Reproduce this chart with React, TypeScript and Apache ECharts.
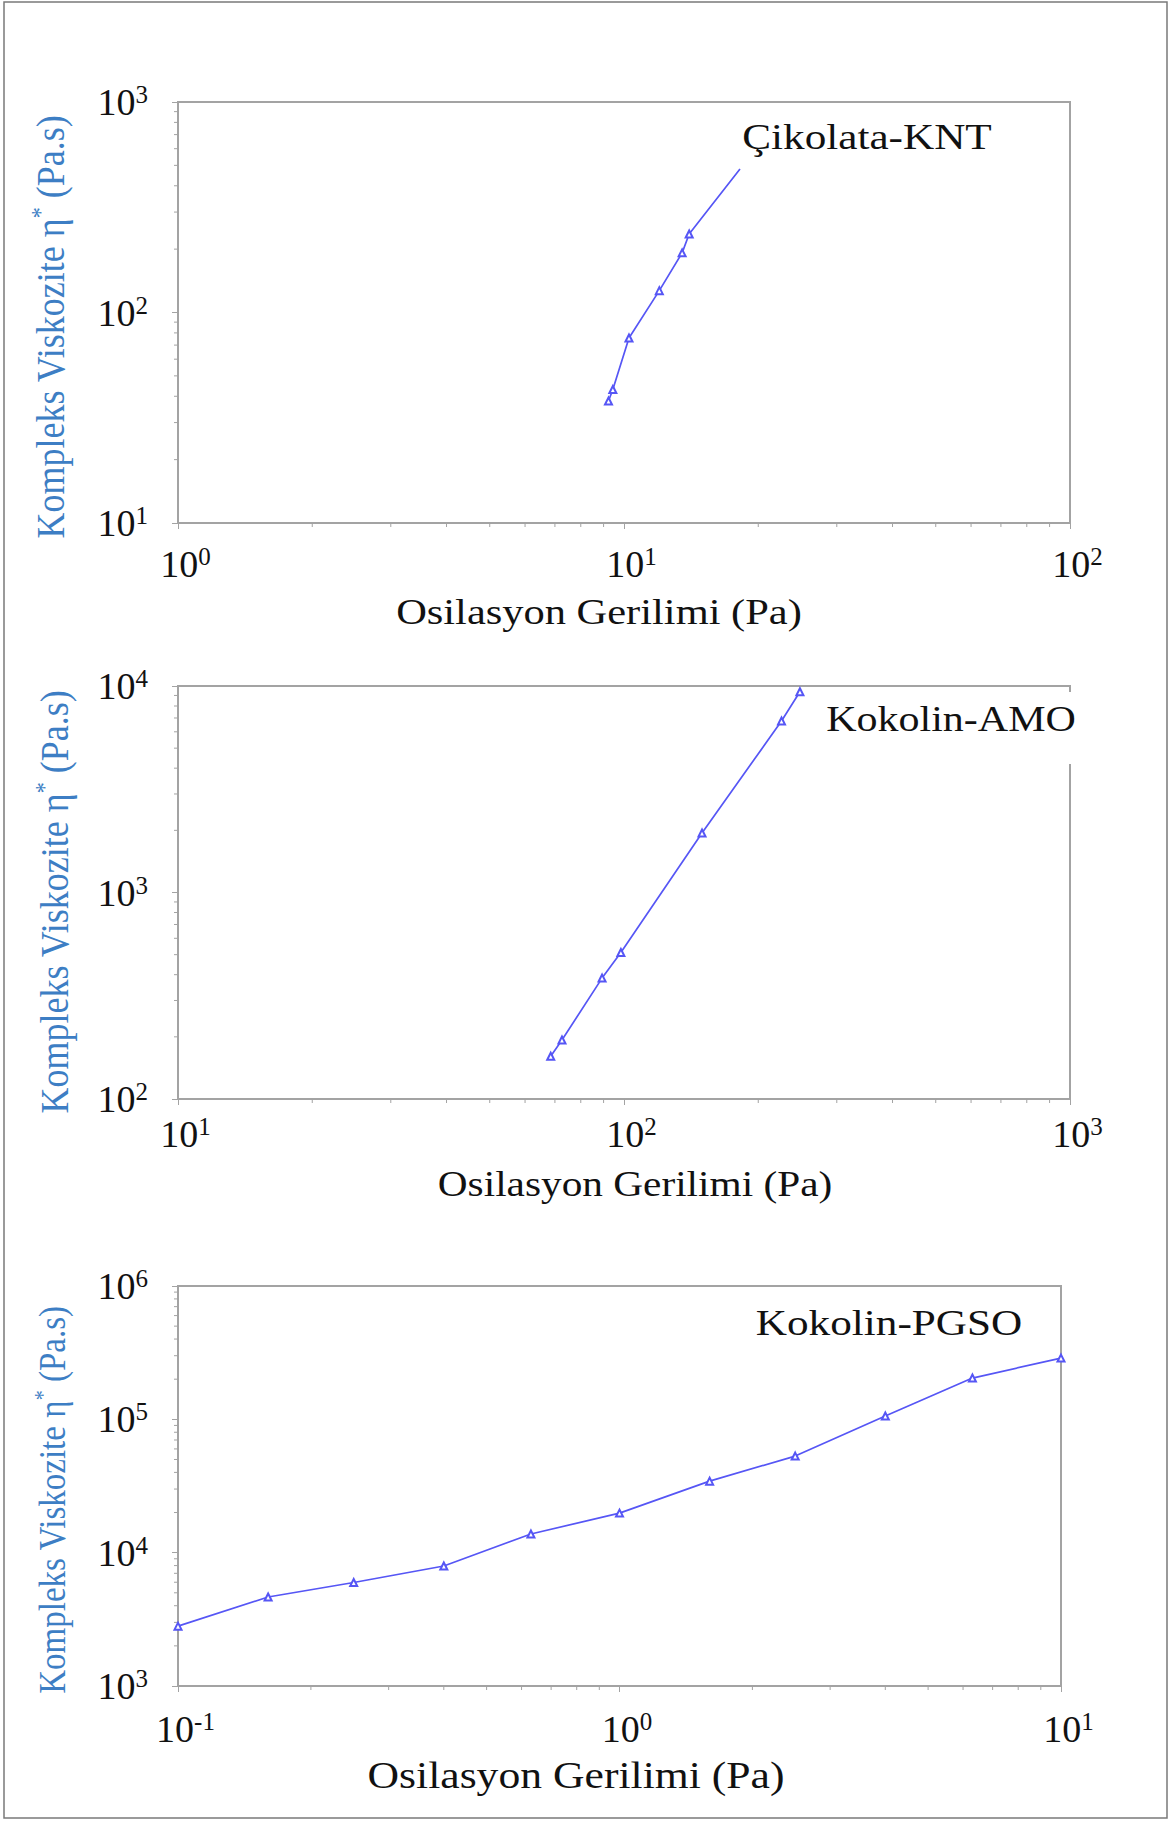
import React, { useEffect, useRef } from "react";
import * as echarts from "echarts";

const FONT = "Liberation Serif";
const LINE_BLUE = "#5656f5";
const NAME_BLUE = "#3d7ec4";
const AXIS_GREY = "#a3a3a3";

// Çikolata-KNT
const knStress = [9.23, 9.44, 10.26, 12.0, 13.5, 14.0, 18.2];
const knVisc = [38, 43.1, 75.6, 127, 192, 236, 481];

// Kokolin-AMO
const amoStress = [68.5, 72.6, 89.3, 98.4, 149.6, 225.5, 248];
const amoVisc = [161, 193, 385, 512, 1941, 6770, 9380];

// Kokolin-PGSO
const pgsoStress = [0.1, 0.16, 0.25, 0.4, 0.63, 1, 1.6, 2.5, 4, 6.3, 10];
const pgsoVisc = [2810, 4650, 5970, 7940, 13800, 19800, 34400, 53000, 106000, 204000, 288000];

const panelNames = ["Çikolata-KNT", "Kokolin-AMO", "Kokolin-PGSO"];
const xRanges = [
  [1, 100],
  [10, 1000],
  [0.1, 10],
];
const yRanges = [
  [10, 1000],
  [100, 10000],
  [1000, 1000000],
];
const xTitle = "Osilasyon Gerilimi (Pa)";
const yTitleMain = "Kompleks Viskozite η";
const yTitleStar = "*";
const yTitleUnit = " (Pa.s)";

// minor log ticks (2..9 × 10^k) inside an axis range
function minorTicks(min: number, max: number): number[] {
  const out: number[] = [];
  const lo = Math.round(Math.log10(min));
  const hi = Math.round(Math.log10(max));
  for (let k = lo; k < hi; k++) {
    for (let m = 2; m <= 9; m++) out.push(m * Math.pow(10, k));
  }
  return out;
}

const tickRich = {
  p: { width: 15, fontFamily: FONT, fontSize: 38 },
  b: { fontSize: 38, lineHeight: 40, fontFamily: FONT, color: "#111" },
  s: { fontSize: 25, lineHeight: 27, verticalAlign: "top", fontFamily: FONT, color: "#111" },
};

function expOf(v: number) {
  return Math.round(Math.log10(v));
}

function buildOption() {
  const grids = [
    { left: 178, top: 102, width: 892, height: 421 },
    { left: 178, top: 686, width: 892, height: 413 },
    { left: 178, top: 1286, width: 883, height: 400 },
  ];
  const xLabelMargins = [21, 15, 23];

  const seriesData = [
    knStress.map((x, i) =>
      i === knStress.length - 1 ? { value: [x, knVisc[i]], symbol: "none" } : [x, knVisc[i]]
    ),
    amoStress.map((x, i) => [x, amoVisc[i]]),
    pgsoStress.map((x, i) => [x, pgsoVisc[i]]),
  ];

  const xAxes = grids.map((_, i) => ({
    type: "log",
    gridIndex: i,
    logBase: 10,
    min: xRanges[i][0],
    max: xRanges[i][1],
    axisLine: { show: true, lineStyle: { color: AXIS_GREY, width: 2 } },
    axisTick: { show: true, length: 6, lineStyle: { color: AXIS_GREY, width: 1 } },
    splitLine: { show: false },
    axisLabel: {
      margin: xLabelMargins[i],
      fontFamily: FONT,
      fontSize: 38,
      formatter: (v: number) => `{p|}{b|10}{s|${expOf(v)}}`,
      rich: tickRich,
    },
  }));

  const yAxes = grids.map((_, i) => ({
    type: "log",
    gridIndex: i,
    logBase: 10,
    min: yRanges[i][0],
    max: yRanges[i][1],
    axisLine: { show: true, lineStyle: { color: AXIS_GREY, width: 2 } },
    axisTick: { show: true, length: 6, lineStyle: { color: AXIS_GREY, width: 1 } },
    splitLine: { show: false },
    axisLabel: {
      margin: 30,
      fontFamily: FONT,
      fontSize: 38,
      formatter: (v: number) => `{b|10}{s|${expOf(v)}}`,
      rich: tickRich,
    },
  }));

  const minorTickSeries = (gi: number, dir: "x" | "y") => {
    const vals =
      dir === "x"
        ? minorTicks(xRanges[gi][0], xRanges[gi][1])
        : minorTicks(yRanges[gi][0], yRanges[gi][1]);
    return {
      type: "custom",
      xAxisIndex: gi,
      yAxisIndex: gi,
      silent: true,
      clip: false,
      z: 1,
      data: vals.map((v) => (dir === "x" ? [v, yRanges[gi][0]] : [xRanges[gi][0], v])),
      renderItem: (_p: any, api: any) => {
        const pt = api.coord([api.value(0), api.value(1)]);
        const shape =
          dir === "x"
            ? { x1: pt[0], y1: pt[1], x2: pt[0], y2: pt[1] + 4 }
            : { x1: pt[0] - 4, y1: pt[1], x2: pt[0], y2: pt[1] };
        return { type: "line", shape, style: { stroke: AXIS_GREY, lineWidth: 1 } };
      },
    };
  };

  const lineSeries = grids.map((_, i) => ({
    type: "line",
    xAxisIndex: i,
    yAxisIndex: i,
    data: seriesData[i],
    symbol: "emptyTriangle",
    symbolSize: 7,
    showSymbol: true,
    lineStyle: { color: LINE_BLUE, width: 1.7 },
    itemStyle: { color: LINE_BLUE, borderColor: LINE_BLUE, borderWidth: 1 },
    z: 3,
  }));

  const ticksSeries: any[] = [];
  grids.forEach((_, i) => {
    ticksSeries.push(minorTickSeries(i, "x"));
    ticksSeries.push(minorTickSeries(i, "y"));
  });

  const xNamePos = [
    [599, 612],
    [635, 1184],
    [576, 1776],
  ];
  const xNameSize = [36, 35, 37];
  const yNamePos = [
    [50, 327],
    [54, 902],
    [53, 1500],
  ];
  const yNameSize = [36, 36, 33];
  const panelLabelPos = [
    [867, 137],
    [951, 719],
    [889, 1323],
  ];
  const panelLabelSize = [36, 35, 36];

  const graphics: any[] = [
    {
      type: "rect",
      shape: { x: 4, y: 2, width: 1163, height: 1816 },
      style: { fill: "none", stroke: "#7a7a7a", lineWidth: 1.5 },
      z: 0,
    },
    // white patch behind the Kokolin-AMO caption
    {
      type: "rect",
      shape: { x: 820, y: 692, width: 262, height: 72 },
      style: { fill: "#ffffff" },
      z: 100,
    },
  ];

  for (let i = 0; i < 3; i++) {
    graphics.push({
      type: "text",
      x: xNamePos[i][0],
      y: xNamePos[i][1],
      scaleX: 1.18,
      z: 101,
      style: {
        text: xTitle,
        fontFamily: FONT,
        fontSize: xNameSize[i],
        fill: "#111",
        align: "center",
        verticalAlign: "middle",
      },
    });
    graphics.push({
      type: "text",
      x: yNamePos[i][0],
      y: yNamePos[i][1],
      rotation: Math.PI / 2,
      scaleY: 1.12,
      z: 101,
      style: {
        text: `{a|${yTitleMain}}{s|${yTitleStar}}{a|${yTitleUnit}}`,
        fontFamily: FONT,
        fontSize: yNameSize[i],
        align: "center",
        verticalAlign: "middle",
        rich: {
          a: { fontFamily: FONT, fontSize: yNameSize[i], fill: NAME_BLUE, color: NAME_BLUE, lineHeight: 38 },
          s: {
            fontFamily: FONT,
            fontSize: Math.round(yNameSize[i] * 0.62),
            fill: NAME_BLUE,
            color: NAME_BLUE,
            lineHeight: 26,
            verticalAlign: "top",
          },
        },
      },
    });
    graphics.push({
      type: "text",
      x: panelLabelPos[i][0],
      y: panelLabelPos[i][1],
      scaleX: 1.2,
      z: 102,
      style: {
        text: panelNames[i],
        fontFamily: FONT,
        fontSize: panelLabelSize[i],
        fill: "#111",
        align: "center",
        verticalAlign: "middle",
      },
    });
  }

  return {
    animation: false,
    backgroundColor: "#ffffff",
    textStyle: { fontFamily: FONT },
    grid: grids.map((g) => ({
      ...g,
      show: true,
      borderColor: AXIS_GREY,
      borderWidth: 2,
      backgroundColor: "transparent",
      containLabel: false,
    })),
    xAxis: xAxes,
    yAxis: yAxes,
    series: [...ticksSeries, ...lineSeries],
    graphic: graphics,
  };
}

export default function App() {
  const ref = useRef<HTMLDivElement>(null);

  useEffect(() => {
    if (!ref.current) return;
    const chart = echarts.init(ref.current, null, { renderer: "svg" });
    chart.setOption(buildOption() as any);
    return () => {
      chart.dispose();
    };
  }, []);

  return (
    <div
      ref={ref}
      style={{ position: "absolute", left: 0, top: 0, width: 1170, height: 1821 }}
    />
  );
}
